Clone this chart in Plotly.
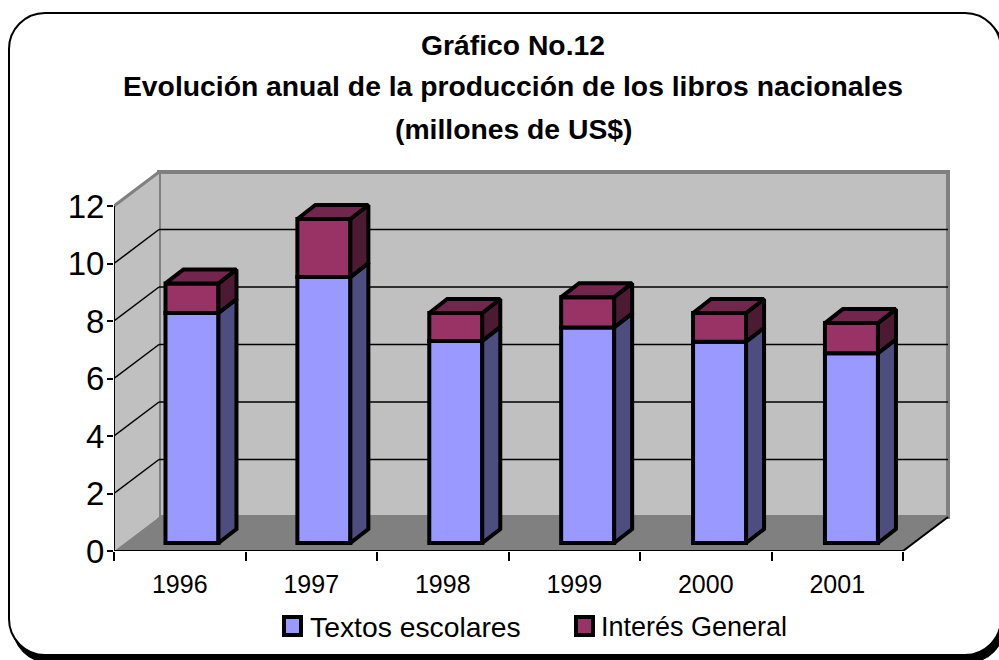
import plotly.graph_objects as go

years = ["1996", "1997", "1998", "1999", "2000", "2001"]
textos = [8.0, 9.25, 7.03, 7.5, 7.0, 6.6]
interes = [1.03, 2.02, 0.97, 1.05, 1.0, 1.05]
y_ticks = [0, 2, 4, 6, 8, 10, 12]
series_names = ["Textos escolares", "Interés General"]
title_lines = ["Gráfico No.12", "Evolución anual de la producción de los libros nacionales", "(millones de US$)"]

W, H = 999, 660
PX0, PX1 = 114, 951      # plot area left / right
PY0, PY1 = 551, 170      # plot area bottom / top
UX = 131.5               # px per category
UY = 28.75               # px per value unit
WDX, WDY = 45 / UX, 34 / UY    # depth of the chart box
BDX, BDY = 18 / UX, 14 / UY    # depth of a bar
OFFX, OFFY = 0.593, 8 / UY     # bar centre / bar floor offset
STEP = 1.003
BW = 53 / UX
N = len(years)

BLUE, BLUE_S = "#9999FF", "#4D4D80"
MAG, MAG_S, MAG_T = "#993366", "#4D1A33", "#73264D"
GREY, WALL = "#808080", "#C0C0C0"

def px(x):
    return (x - PX0) / (PX1 - PX0)

def py(y):
    return (PY0 - y) / (PY0 - PY1)

def rrect(l, t, r, b, rad):
    k = rad * 0.45
    P = lambda a, c: f"{px(a)} {py(c)}"
    return (f"M {P(l+rad, t)} L {P(r-rad, t)} C {P(r-k, t)} {P(r, t+k)} {P(r, t+rad)} "
            f"L {P(r, b-rad)} C {P(r, b-k)} {P(r-k, b)} {P(r-rad, b)} "
            f"L {P(l+rad, b)} C {P(l+k, b)} {P(l, b-k)} {P(l, b-rad)} "
            f"L {P(l, t+rad)} C {P(l, t+k)} {P(l+k, t)} {P(l+rad, t)} Z")

def poly(pts, fill, line=None, lw=0):
    d = "M " + " L ".join(f"{a} {b}" for a, b in pts) + " Z"
    return dict(type="path", path=d, xref="x", yref="y", layer="below", fillcolor=fill,
                line=dict(color=line or fill, width=lw))

def seg(x0, y0, x1, y1, color="#000000", w=1.5):
    return dict(type="line", x0=x0, y0=y0, x1=x1, y1=y1, xref="x", yref="y",
                layer="below", line=dict(color=color, width=w))

shapes = [
    dict(type="path", path=rrect(13, 17, 1004, 662, 36), xref="paper", yref="paper", layer="below",
         fillcolor="#000000", line=dict(color="#000000", width=2)),
    dict(type="path", path=rrect(9, 13, 1001, 655, 36), xref="paper", yref="paper", layer="below",
         fillcolor="#FFFFFF", line=dict(color="#000000", width=2)),
]
shapes += [
    poly([(WDX, WDY), (WDX + N, WDY), (WDX + N, 12 + WDY), (WDX, 12 + WDY)], WALL, GREY, 4),
    poly([(0, 0), (WDX, WDY), (WDX, 12 + WDY), (0, 12)], WALL),
    poly([(0, 0), (WDX, WDY), (WDX + N, WDY), (N, 0)], GREY),
    seg(0, 12, WDX, 12 + WDY, GREY, 3),
]
for v in y_ticks[1:-1]:
    shapes.append(seg(0, v, WDX, v + WDY))
    shapes.append(seg(WDX, v + WDY, WDX + N, v + WDY))
shapes += [seg(0, 0, N, 0, "#000000", 2), seg(N, 0, N + WDX, WDY, "#000000", 2), seg(0, 0, 0, 12, "#000000", 2)]

# legend swatches
for (l, fill) in [(284, BLUE), (576, MAG)]:
    shapes.append(dict(type="rect", x0=px(l), x1=px(l + 17), y0=py(617), y1=py(635), xref="paper", yref="paper",
                       layer="below", fillcolor=fill, line=dict(color="#000000", width=4)))

fig = go.Figure()
xc = [i * STEP + OFFX for i in range(N)]
tops = [a + b for a, b in zip(textos, interes)]
floor = [OFFY] * N
fig.add_bar(x=xc, y=textos, base=floor, width=BW, name=series_names[0],
            marker=dict(color=BLUE, line=dict(color="#000000", width=4)))
fig.add_bar(x=xc, y=interes, base=[OFFY + t for t in textos], width=BW, name=series_names[1],
            marker=dict(color=MAG, line=dict(color="#000000", width=4)))

def face(xs, ys, color):
    fig.add_scatter(x=xs, y=ys, mode="lines", fill="toself", fillcolor=color,
                    line=dict(color="#000000", width=4), showlegend=False, hoverinfo="skip")

for c, t, top in zip(xc, textos, tops):
    r = c + BW / 2
    l = c - BW / 2
    face([r, r + BDX, r + BDX, r, r], [OFFY, OFFY + BDY, OFFY + t + BDY, OFFY + t, OFFY], BLUE_S)
    face([r, r + BDX, r + BDX, r, r], [OFFY + t, OFFY + t + BDY, OFFY + top + BDY, OFFY + top, OFFY + t], MAG_S)
    face([l, l + BDX, r + BDX, r, l], [OFFY + top, OFFY + top + BDY, OFFY + top + BDY, OFFY + top, OFFY + top], MAG_T)

annotations = [dict(text=f"<b>{t}</b>", x=px(513), y=py(y), xref="paper", yref="paper", showarrow=False,
                    xanchor="center", yanchor="middle",
                    font=dict(family="Liberation Sans", size=28.3, color="#000000"))
               for t, y in zip(title_lines, [45, 86, 129])]
annotations += [dict(text=t, x=px(xx), y=py(627), xref="paper", yref="paper", showarrow=False,
                     xanchor="left", yanchor="middle",
                     font=dict(family="Liberation Sans", size=s, color="#000000"))
                for t, xx, s in zip(series_names, [308, 599], [28.3, 27])]

fig.update_layout(
    width=W, height=H, autosize=False, paper_bgcolor="#FFFFFF", plot_bgcolor="rgba(0,0,0,0)",
    margin=dict(l=PX0, r=W - PX1, t=PY1, b=H - PY0, pad=0),
    barmode="overlay", shapes=shapes, annotations=annotations, showlegend=False,
    font=dict(family="Liberation Sans", color="#000000"),
)
fig.update_xaxes(range=[0, (PX1 - PX0) / UX], tickmode="array", tickvals=[i + 0.5 for i in range(N)],
                 ticktext=years, ticks="outside", ticklen=11, tickcolor="rgba(0,0,0,0)",
                 tickfont=dict(size=25, color="#000000"), showgrid=False, zeroline=False, showline=False,
                 minor=dict(tickmode="array", tickvals=list(range(N + 1)), ticks="outside", ticklen=9,
                            tickcolor="#000000", tickwidth=2, showgrid=False))
fig.update_yaxes(range=[0, (PY0 - PY1) / UY], tickmode="array", tickvals=y_ticks,
                 ticktext=[str(v) for v in y_ticks], ticks="outside", ticklen=6, tickcolor="#000000",
                 tickwidth=2, tickfont=dict(size=33, color="#000000"), showgrid=False, zeroline=False,
                 showline=False, ticklabelstandoff=-4)
fig.write_html("out.html", config=dict(displayModeBar=False),
               post_script="document.documentElement.style.margin='0';document.body.style.margin='0';document.documentElement.style.overflow='hidden';")
